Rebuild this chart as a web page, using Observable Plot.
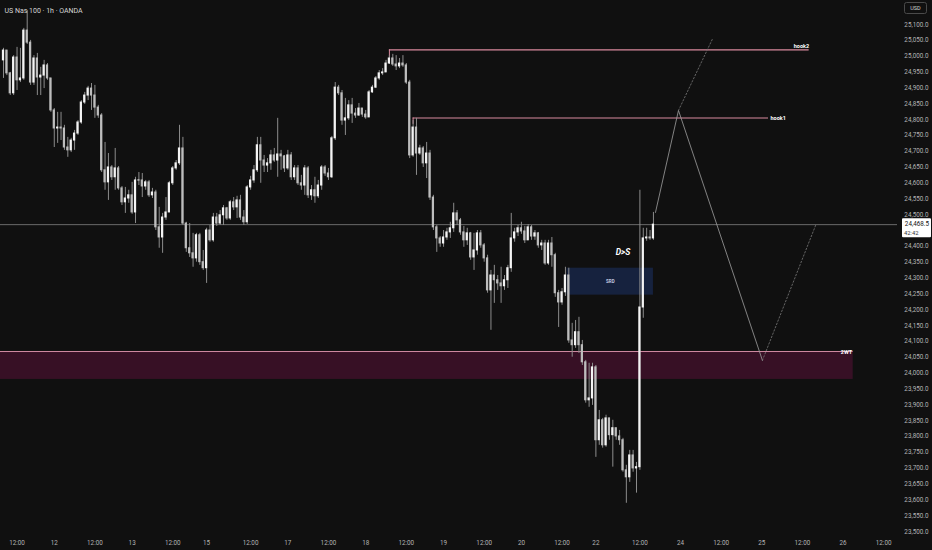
<!DOCTYPE html>
<html><head><meta charset="utf-8">
<script src="https://cdn.jsdelivr.net/npm/d3@7"></script>
<script src="https://cdn.jsdelivr.net/npm/@observablehq/plot@0.6"></script>
<style>
html,body{margin:0;padding:0;background:#101010;overflow:hidden;}
#chart{position:relative;width:932px;height:550px;}
</style></head><body><div id="chart"></div>
<script>
// ---- Data (US Nas 100, 1h, OANDA) ----
const title = "US Nas 100 · 1h · OANDA";
const firstOpen = 24987;
const closes = [25018,24946,24883,24996,24924,24930,25081,25043,24917,24993,
24933,24939,24971,24930,24829,24772,24775,24772,24712,24703,
24734,24756,24791,24854,24876,24898,24876,24838,24813,24640,
24602,24649,24618,24646,24583,24539,24551,24561,24507,24608,
24608,24589,24602,24561,24570,24460,24428,24491,24507,24599,
24646,24662,24709,24472,24394,24378,24362,24435,24350,24331,
24450,24419,24491,24472,24498,24520,24488,24539,24523,24545,
24491,24476,24586,24608,24640,24719,24671,24655,24662,24687,
24671,24690,24684,24646,24687,24618,24646,24599,24592,24646,
24561,24577,24558,24592,24649,24630,24618,24741,24901,24883,
24797,24804,24845,24819,24813,24835,24816,24807,24886,24901,
24930,24946,24949,24977,24993,24974,24968,24977,24971,24917,
24687,24775,24693,24709,24662,24693,24554,24460,24425,24409,
24428,24444,24457,24504,24482,24444,24419,24441,24365,24387,
24441,24403,24362,24261,24308,24293,24283,24274,24293,24331,
24425,24444,24457,24447,24419,24460,24431,24441,24403,24409,
24346,24409,24372,24252,24223,24255,24308,24103,24088,24129,
24088,24034,23914,23920,24018,23788,23851,23772,23857,23804,
23826,23800,23788,23693,23671,23740,23699,23703,24207,24425,
24428,24425,24468.5];
const highs = [25025,25018,24949,25002,25028,25025,25088,25144,25050,25002,
25009,24965,24987,24977,24930,24835,24823,24823,24782,24744,
24741,24766,24797,24860,24886,24905,24914,24908,24845,24819,
24728,24693,24655,24709,24652,24589,24586,24577,24602,24618,
24633,24630,24608,24608,24583,24577,24523,24504,24554,24605,
24652,24671,24782,24744,24476,24472,24441,24441,24441,24387,
24457,24466,24504,24504,24513,24529,24523,24545,24554,24558,
24561,24513,24592,24621,24655,24744,24744,24687,24677,24703,
24709,24804,24703,24687,24703,24696,24655,24655,24624,24655,
24652,24592,24618,24608,24655,24655,24646,24747,24917,24908,
24892,24867,24860,24867,24835,24851,24835,24829,24892,24908,
24936,24955,24961,24987,25002,25006,25002,24993,25002,24977,
24924,24797,24804,24719,24715,24728,24703,24561,24466,24431,
24450,24457,24476,24536,24513,24488,24463,24457,24444,24441,
24450,24450,24409,24372,24324,24340,24308,24334,24308,24340,
24504,24457,24466,24476,24463,24469,24466,24450,24444,24419,
24419,24419,24428,24378,24261,24267,24334,24331,24157,24166,
24176,24103,24040,24031,24031,24024,23882,23857,23867,23857,
23851,23826,23819,23794,23709,23756,23756,23718,24577,24457,
24457,24450,24507];
const lows = [24930,24939,24876,24876,24892,24917,24924,25037,24908,24908,
24876,24876,24898,24924,24823,24712,24725,24734,24703,24681,
24696,24703,24750,24785,24848,24860,24829,24804,24804,24633,
24577,24545,24608,24577,24577,24529,24504,24536,24501,24472,
24592,24554,24577,24554,24551,24450,24394,24378,24482,24507,
24592,24640,24655,24466,24381,24365,24334,24350,24340,24324,
24283,24413,24413,24463,24466,24466,24482,24482,24513,24488,
24482,24466,24469,24577,24599,24633,24599,24633,24633,24640,
24665,24618,24640,24633,24640,24608,24608,24592,24577,24561,
24551,24545,24536,24551,24577,24621,24608,24614,24734,24876,
24782,24750,24797,24788,24804,24810,24807,24801,24807,24883,
24898,24924,24939,24949,24974,24968,24955,24961,24965,24911,
24677,24681,24624,24687,24649,24614,24545,24450,24381,24397,
24397,24419,24425,24444,24466,24435,24397,24403,24356,24324,
24372,24394,24350,24252,24135,24220,24261,24220,24261,24267,
24318,24413,24431,24438,24409,24419,24419,24419,24394,24387,
24340,24340,24334,24239,24144,24214,24242,24094,24050,24078,
24062,24024,23905,23892,23898,23734,23772,23763,23766,23788,
23703,23788,23772,23687,23589,23655,23687,23621,23693,24173,
24416,24419,24419];
const lastPrice = 24468.5;
const countdown = "42:42";

// price-axis ticks and time-axis ticks (bar index of each label)
const yTickValues = d3.range(23500, 25101, 50);
const xTickBars   = [4,15,27,38,50,60,73,84,96,107,119,130,142,153,165,175,188,200,212,224,236,248,260];
const xTickLabels = ["12:00","12","12:00","13","12:00","15","12:00","17","12:00","18","12:00","19",
                     "12:00","20","12:00","22","12:00","24","12:00","25","12:00","26","12:00"];

// drawn levels / zones (bar index, price)
const levelNames  = ["hook2","hook1"];
const levelPrices = [25020, 24805];
const levelFrom   = [114, 121];
const levelTo     = [238, 226];
const levelTickTo = [24996, 24785];

const zoneName = "2WT";
const zoneBars = [-1, 251];
const zonePrices = [23980, 24068];

const srdName = "SRD";
const srdBars = [166.5, 192];
const srdPrices = [24246, 24331];
const dsText = "D>S";
const dsBar = 183; const dsPrice = 24380;

const projBars   = [192.6, 199.4, 224.2];
const projPrices = [24507, 24829, 24040];
const proj2Bars  = [199.4, 209.5];
const proj2Prices= [24829, 25056];
const proj3Bars  = [224.2, 239.9];
const proj3Prices= [24040, 24466];

// ---- build tables ----
const bars = closes.map((c, i) => ({
  i, o: i === 0 ? firstOpen : closes[i - 1], c, h: highs[i], l: lows[i]
}));
bars.forEach(d => { d.up = d.c >= d.o; d.top = Math.max(d.o, d.c); d.bot = Math.min(d.o, d.c); });
const levels = levelNames.map((n, k) => ({name: n, price: levelPrices[k], from: levelFrom[k], to: levelTo[k], tickTo: levelTickTo[k]}));
const proj  = projBars.map((b, k) => ({b, p: projPrices[k]}));
const proj2 = proj2Bars.map((b, k) => ({b, p: proj2Prices[k]}));
const proj3 = proj3Bars.map((b, k) => ({b, p: proj3Prices[k]}));
const fmt = d3.format(",.1f");
const axisCol = "#b4b4b4";
const pink = "#d8899d";
// price labels hidden behind the last-price tag
const shownYTicks = yTickValues.filter(v => !(v > lastPrice - 35 && v < lastPrice));

const chart = Plot.plot({
  width: 932, height: 550,
  marginLeft: 0, marginRight: 35, marginTop: 0, marginBottom: 13,
  style: {background: "#101010", color: axisCol, fontFamily: "Roboto, 'DejaVu Sans', sans-serif", fontSize: "6.5px"},
  x: {domain: [-0.886, 264.1], axis: null},
  y: {domain: [23481, 25176], axis: null},
  marks: [
    // 2WT zone
    Plot.rect([0], {x1: zoneBars[0], x2: zoneBars[1], y1: zonePrices[0], y2: zonePrices[1], fill: "#3a1127", fillOpacity: 0.95}),
    Plot.ruleY([zonePrices[1]], {x1: zoneBars[0], x2: zoneBars[1], stroke: "#d08aa2", strokeWidth: 1}),
    Plot.text([zoneName], {x: zoneBars[1], y: zonePrices[1], textAnchor: "end", dx: -1, dy: 1, fill: "#ffffff", fontSize: 5.5, fontWeight: "bold"}),
    // SRD box
    Plot.rect([0], {x1: srdBars[0], x2: srdBars[1], y1: srdPrices[0], y2: srdPrices[1], fill: "#172441", fillOpacity: 0.95}),
    Plot.text([srdName], {x: (srdBars[0] + srdBars[1]) / 2, y: (srdPrices[0] + srdPrices[1]) / 2, fill: "#c0c8e0", fontSize: 4.5, fontWeight: "bold"}),
    // current price line
    Plot.ruleY([lastPrice], {stroke: "#6a6a6a", strokeWidth: 1}),
    // hook levels
    Plot.ruleY(levels, {y: "price", x1: "from", x2: "to", stroke: pink, strokeWidth: 1.1}),
    Plot.ruleX(levels, {x: "from", y1: "price", y2: "tickTo", stroke: pink, strokeWidth: 1}),
    Plot.text(levels.filter(d => d.name === "hook2"), {x: "to", y: "price", text: "name", textAnchor: "end", dy: -3.5, fill: "#ffffff", fontSize: 5.5, fontWeight: "bold"}),
    Plot.text(levels.filter(d => d.name === "hook1"), {x: "to", y: "price", text: "name", textAnchor: "start", dx: 2, fill: "#ffffff", fontSize: 5.5, fontWeight: "bold"}),
    // candles: wicks then bodies
    Plot.ruleX(bars, {x: "i", y1: "l", y2: "h", stroke: "#8c8c8c", strokeWidth: 1}),
    Plot.rect(bars, {x1: d => d.i - 0.33, x2: d => d.i + 0.33, y1: "bot", y2: "top", fill: d => d.up ? "#f4f4f4" : "#bdbdbd", insetTop: -0.5, insetBottom: -0.5}),
    // projections
    Plot.line(proj, {x: "b", y: "p", stroke: "#a0a0a0", strokeWidth: 0.8}),
    Plot.line(proj2, {x: "b", y: "p", stroke: "#7a7a7a", strokeWidth: 0.8, strokeDasharray: "1.5,2"}),
    Plot.line(proj3, {x: "b", y: "p", stroke: "#7a7a7a", strokeWidth: 0.8, strokeDasharray: "1.5,2"}),
    // D>S text
    Plot.text([dsText], {x: dsBar, y: dsPrice, fill: "#ffffff", fontSize: 8.5, fontWeight: "bold", fontStyle: "italic"}),
    // price axis labels
    Plot.text(shownYTicks, {y: d => d, frameAnchor: "right", dx: 31, textAnchor: "end", text: d => fmt(d), fill: axisCol, fontSize: 6.3}),
    // time axis labels
    Plot.text(xTickBars, {x: d => d, frameAnchor: "bottom", dy: 7, text: (d, i) => xTickLabels[i], fill: axisCol, fontSize: 6.3}),
    // title
    Plot.text([title], {frameAnchor: "top-left", dx: 4, dy: 8, fill: "#d6d6d6", fontSize: 7, textAnchor: "start"})
  ]
});

// last-price tag and USD box placed with the price scale
const svg = d3.select(chart);
const yLast = chart.scale("y").apply(lastPrice);
const tag = svg.append("g");
tag.append("rect").attr("x", 902).attr("y", yLast - 6).attr("width", 29).attr("height", 19).attr("fill", "#ffffff").attr("rx", 1);
tag.append("text").attr("x", 929).attr("y", yLast + 2.3).attr("text-anchor", "end").attr("font-size", 6.3).attr("fill", "#111").attr("font-family", "Roboto, sans-serif").text(fmt(lastPrice));
tag.append("text").attr("x", 904).attr("y", yLast + 10.5).attr("text-anchor", "start").attr("font-size", 5.8).attr("fill", "#333").attr("font-family", "Roboto, sans-serif").text(countdown);
const usd = svg.append("g");
usd.append("rect").attr("x", 904.5).attr("y", 2.5).attr("width", 22).attr("height", 11).attr("fill", "#101010").attr("stroke", "#4a4a4a").attr("rx", 2);
usd.append("text").attr("x", 915.5).attr("y", 10.3).attr("text-anchor", "middle").attr("font-size", 5.5).attr("fill", "#d0d0d0").attr("font-family", "Roboto, sans-serif").text("USD");

document.getElementById("chart").appendChild(chart);
</script>
</body></html>
